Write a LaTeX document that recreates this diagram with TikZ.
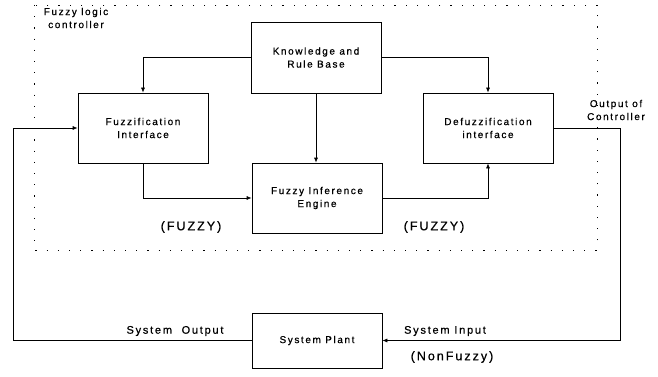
\documentclass[tikz,border=0pt]{standalone}
\usepackage{fontspec}
\setmainfont{Liberation Sans}[LetterSpace=16,FakeBold=0.6]
\usepackage{tikz}
\usetikzlibrary{positioning}
\usetikzlibrary{arrows.meta}

\begin{document}
\begin{tikzpicture}[x=1pt,y=-1pt,
	block/.style={draw, minimum width=130pt, minimum height=70pt, align=center, inner sep=0pt},
	lbl/.style={align=center, inner sep=0pt},
	biglbl/.style={lbl, font=\fontsize{12.5}{15}\selectfont},
	every node/.style={font=\fontsize{10}{13}\selectfont},
	every path/.style={line width=0.7pt},
	>={Latex[length=5pt,width=4pt]}]

	\useasboundingbox (0,0) rectangle (658,377);
	% Controller boundary %
	\draw [dash pattern=on 1.2pt off 10pt] (34,5) rectangle (597,250);
	\node [lbl] (flc) at (76,18) {Fuzzy logic\\controller};
	% Blocks %
	\node [block, minimum height=71pt] (know) at (316,57.5) {Knowledge and\\Rule Base};
	\node [block] (fuzzif) at (143,128) {Fuzzification\\Interface};
	\node [block] (infer) at (317,198) {Fuzzy Inference\\Engine};
	\node [block] (defuzz) at (488,128) {Defuzzification\\interface};
	\node [block, minimum height=55pt] (plant) at (317,340.5) {System Plant};
	% Labels %
	\node [lbl] (outctl) at (616,110) {Output of\\Controller};
	\node [biglbl] (fzleft) at (191,227) {(FUZZY)};
	\node [biglbl] (fzright) at (434,227) {(FUZZY)};
	\node [lbl, font=\fontsize{11}{13}\selectfont] (sysout) at (175,331) {System\ \ Output};
	\node [lbl, font=\fontsize{11}{13}\selectfont] (sysin) at (445,331) {System Input};
	\node [biglbl] (nonfz) at (452,357) {(NonFuzzy)};
	% Turning points %
	\coordinate (rturn) at (620,340.5);
	\coordinate (lturn) at (13,340.5);
	% Connectors %
	\draw [->] (know.west) -| (fuzzif.north);
	\draw [->] (know.east) -| (defuzz.north);
	\draw [->] (know.south) -- (know.south |- infer.north);
	\draw [->] (fuzzif.south) |- (infer.west);
	\draw [->] (infer.east) -| (defuzz.south);
	\draw [->] (defuzz.east) -| (rturn) -- (plant.east);
	\draw [->] (plant.west) -- (lturn) |- (fuzzif.west);
\end{tikzpicture}
\end{document}
